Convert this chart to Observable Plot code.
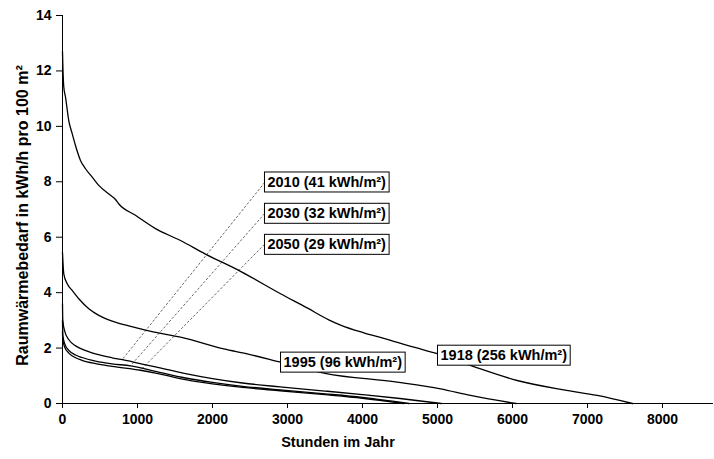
<!DOCTYPE html>
<html>
<head>
<meta charset="utf-8">
<script src="https://cdn.jsdelivr.net/npm/d3@7"></script>
<script src="https://cdn.jsdelivr.net/npm/@observablehq/plot@0.6"></script>
<style>
  body { margin: 0; background: #fff; }
  #chart svg { display: block; }
</style>
</head>
<body>
<div id="chart"></div>
<script>
// ---- data ----
const xTicks = [0, 1000, 2000, 3000, 4000, 5000, 6000, 7000, 8000];
const yTicks = [0, 2, 4, 6, 8, 10, 12, 14];

const seriesNames = ["1918", "1995", "2010", "2030", "2050"];
const seriesLabels = ["1918 (256 kWh/m²)", "1995 (96 kWh/m²)", "2010 (41 kWh/m²)", "2030 (32 kWh/m²)", "2050 (29 kWh/m²)"];

const hours1918 = [0, 4, 17, 40, 84, 129, 173, 240, 307, 396, 484, 640, 700, 751, 973, 1240, 1573, 1900, 2373, 2907, 3262, 3550, 3707, 4018, 4284, 4684, 4996, 5484, 6062, 6684, 7129, 7600];
const values1918 = [12.7, 12.26, 11.42, 11.06, 10.2, 9.74, 9.31, 8.77, 8.47, 8.17, 7.87, 7.51, 7.38, 7.2, 6.79, 6.31, 5.88, 5.4, 4.77, 3.96, 3.45, 3.02, 2.83, 2.55, 2.35, 2.03, 1.8, 1.33, 0.83, 0.49, 0.29, 0];

const hours1995 = [0, 17, 63, 129, 217, 351, 484, 663, 884, 1107, 1329, 1600, 2151, 2462, 2907, 3500, 4462, 5040, 5440, 6050];
const values1995 = [5.45, 4.68, 4.32, 4.08, 3.78, 3.42, 3.18, 2.97, 2.8, 2.65, 2.52, 2.38, 1.97, 1.79, 1.49, 1.09, 0.77, 0.53, 0.29, 0];

const hours2010 = [0, 4, 30, 85, 175, 260, 440, 660, 800, 1020, 1240, 1640, 2000, 2400, 2900, 3500, 4000, 4500, 5050];
const values2010 = [3.6, 3.0, 2.6, 2.3, 2.08, 1.96, 1.79, 1.65, 1.58, 1.45, 1.32, 1.08, 0.9, 0.74, 0.6, 0.45, 0.32, 0.18, 0];

const hours2030 = [0, 4, 30, 85, 175, 260, 440, 660, 907, 1240, 1640, 2000, 2400, 2900, 3500, 4000, 4620];
const values2030 = [3.0, 2.45, 2.15, 1.92, 1.75, 1.66, 1.53, 1.43, 1.36, 1.16, 0.92, 0.76, 0.62, 0.49, 0.35, 0.22, 0];

const hours2050 = [0, 4, 30, 85, 175, 260, 440, 660, 1040, 1240, 1640, 2000, 2400, 2900, 3500, 4000, 4550];
const values2050 = [2.6, 2.3, 2.03, 1.82, 1.65, 1.56, 1.44, 1.34, 1.2, 1.1, 0.86, 0.71, 0.58, 0.46, 0.32, 0.19, 0];

// label anchors (data space) and leader targets (hour on the curve)
const labelHours = [5040, 2947, 2733, 2733, 2733];
const labelValues = [1.73, 1.48, 7.98, 6.85, 5.73];
const leaderHours = [null, null, 796, 907, 1040];

const xTitle = "Stunden im Jahr";
const yTitle = "Raumwärmebedarf in kWh/h pro 100 m²";

// ---- build tables ----
const hoursList = [hours1918, hours1995, hours2010, hours2030, hours2050];
const valuesList = [values1918, values1995, values2010, values2030, values2050];

const rows = [];
seriesNames.forEach((name, s) => {
  hoursList[s].forEach((h, i) => rows.push({series: name, h, v: valuesList[s][i]}));
});

function valueAt(s, h) {
  const hs = hoursList[s], vs = valuesList[s];
  const i = d3.bisectRight(hs, h);
  if (i <= 0) return vs[0];
  if (i >= hs.length) return vs[vs.length - 1];
  const t = (h - hs[i - 1]) / (hs[i] - hs[i - 1]);
  return vs[i - 1] + t * (vs[i] - vs[i - 1]);
}

const labels = seriesNames.map((name, s) => ({series: name, text: seriesLabels[s], h: labelHours[s], v: labelValues[s]}));
const leaders = seriesNames.map((name, s) => leaderHours[s] == null ? null : ({
  x1: labelHours[s], y1: labelValues[s] + 0.12,
  x2: leaderHours[s], y2: valueAt(s, leaderHours[s])
})).filter(d => d);

const font = "'Liberation Sans', Arial, Helvetica, sans-serif";

const chart = Plot.plot({
  width: 714,
  height: 459,
  marginLeft: 62,
  marginRight: 1,
  marginTop: 15,
  marginBottom: 56,
  style: {fontFamily: font, fontWeight: "bold", fontSize: "14px", color: "black", background: "white"},
  x: {domain: [0, 8680]},
  y: {domain: [0, 14]},
  marks: [
    Plot.axisX({ticks: xTicks, tickSize: 5, tickPadding: 6, tickFormat: d => String(d), label: null, stroke: "black", fontSize: 14, fontWeight: "bold"}),
    Plot.axisY({ticks: yTicks, tickSize: 6, tickPadding: 5, tickFormat: d => String(d), label: null, stroke: "black", fontSize: 14, fontWeight: "bold"}),
    Plot.line(rows, {x: "h", y: "v", z: "series", stroke: "black", strokeWidth: 1.3, curve: "monotone-x"}),
    Plot.link(leaders, {x1: "x1", y1: "y1", x2: "x2", y2: "y2", stroke: "black", strokeWidth: 0.6, strokeDasharray: "2.5,1.8", curve: "linear"}),
    Plot.ruleX([0], {stroke: "black", strokeWidth: 1}),
    Plot.ruleY([0], {stroke: "black", strokeWidth: 1.2}),
    Plot.text(labels, {x: "h", y: "v", text: "text", textAnchor: "start", fill: "black", fontSize: 14.5, fontWeight: "bold"}),
    Plot.text([xTitle], {frameAnchor: "bottom", dy: 43, dx: -50, fontSize: 14.5, fontWeight: "bold", fill: "black"}),
    Plot.text([yTitle], {frameAnchor: "left", textAnchor: "middle", rotate: -90, dx: -40, dy: 6, fontSize: 16, fontWeight: "bold", fill: "black"})
  ]
});

document.getElementById("chart").append(chart);

// white framed boxes behind the curve labels
const NS = "http://www.w3.org/2000/svg";
chart.querySelectorAll("text").forEach(t => {
  if (!seriesLabels.includes(t.textContent)) return;
  const b = t.getBBox();
  const cy = b.y + b.height / 2;
  const r = document.createElementNS(NS, "rect");
  r.setAttribute("x", b.x - 3);
  r.setAttribute("y", cy - 10);
  r.setAttribute("width", b.width + 6);
  r.setAttribute("height", 20);
  r.setAttribute("fill", "white");
  r.setAttribute("stroke", "black");
  r.setAttribute("stroke-width", "1");
  if (t.getAttribute("transform")) r.setAttribute("transform", t.getAttribute("transform"));
  t.parentNode.insertBefore(r, t);
});
</script>
</body>
</html>
